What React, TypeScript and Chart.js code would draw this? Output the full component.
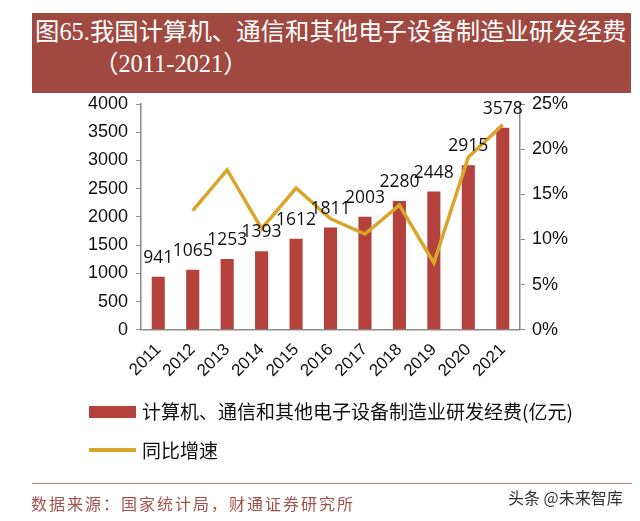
import React, { useEffect, useRef } from "react";
import { Chart, registerables } from "chart.js";

Chart.register(...registerables);

const years = ["2011", "2012", "2013", "2014", "2015", "2016", "2017", "2018", "2019", "2020", "2021"];
const rdSpending = [941, 1065, 1253, 1393, 1612, 1811, 2003, 2280, 2448, 2915, 3578];
const growthRate = [null, 13.2, 17.7, 11.2, 15.7, 12.3, 10.6, 13.8, 7.4, 19.1, 22.7];
const leftTicks = [0, 500, 1000, 1500, 2000, 2500, 3000, 3500, 4000];
const rightTicks = [0, 5, 10, 15, 20, 25];

const titleLine1 = "图65.我国计算机、通信和其他电子设备制造业研发经费";
const titleLine2 = "（2011-2021）";
const barLegend = "计算机、通信和其他电子设备制造业研发经费(亿元)";
const lineLegend = "同比增速";
const sourceText = "数据来源：国家统计局，财通证券研究所";
const watermark = "头条 @未来智库";

const BAR_COLOR = "#B5413D";
const LINE_COLOR = "#D9A52A";
const TITLE_BG = "#9F4941";
const AXIS_COLOR = "#8C8C8C";
const FONT = "'Liberation Sans', 'Noto Sans CJK SC', sans-serif";

const valueLabels = {
  id: "valueLabels",
  afterDatasetsDraw(chart: any) {
    const ctx = chart.ctx;
    const meta = chart.getDatasetMeta(0);
    ctx.save();
    ctx.font = "17.5px 'Open Sans', 'Liberation Sans', sans-serif";
    ctx.fillStyle = "#111";
    ctx.textAlign = "center";
    ctx.textBaseline = "alphabetic";
    meta.data.forEach((el: any, i: number) => {
      ctx.fillText(String(rdSpending[i]), el.x, el.y - 14);
    });
    ctx.restore();
  },
};

export default function App() {
  const ref = useRef<HTMLCanvasElement>(null);
  useEffect(() => {
    if (!ref.current) return;
    const chart = new Chart(ref.current, {
      type: "bar",
      data: {
        labels: years,
        datasets: [
          {
            type: "bar",
            label: barLegend,
            data: rdSpending,
            backgroundColor: BAR_COLOR,
            yAxisID: "y",
            categoryPercentage: 1,
            barPercentage: 0.38,
            order: 1,
          },
          {
            type: "line",
            label: lineLegend,
            data: growthRate as any,
            borderColor: LINE_COLOR,
            backgroundColor: LINE_COLOR,
            borderWidth: 3.5,
            pointRadius: 0,
            tension: 0,
            yAxisID: "y1",
            order: 0,
          },
        ],
      },
      options: {
        responsive: false,
        animation: false,
        layout: { padding: { left: 80, right: 65, top: 104, bottom: 138 } },
        plugins: { legend: { display: false }, tooltip: { enabled: false }, title: { display: false } },
        scales: {
          x: {
            grid: { display: false },
            border: { display: true, color: AXIS_COLOR, width: 1.5 },
            ticks: {
              color: "#111",
              font: { family: FONT, size: 17 },
              minRotation: 45,
              maxRotation: 45,
              padding: 2,
            },
          },
          y: {
            position: "left",
            min: 0,
            max: 4000,
            afterBuildTicks: (s: any) => {
              s.ticks = leftTicks.map((v) => ({ value: v }));
            },
            grid: { drawOnChartArea: false, drawTicks: true, tickLength: 5, color: AXIS_COLOR },
            border: { display: true, color: AXIS_COLOR, width: 1.5 },
            ticks: { color: "#111", font: { family: FONT, size: 18 }, padding: 8, callback: (v: any) => String(v) },
          },
          y1: {
            position: "right",
            min: 0,
            max: 25,
            afterBuildTicks: (s: any) => {
              s.ticks = rightTicks.map((v) => ({ value: v }));
            },
            grid: { drawOnChartArea: false, drawTicks: true, tickLength: 5, color: AXIS_COLOR },
            border: { display: true, color: AXIS_COLOR, width: 1.5 },
            ticks: {
              color: "#111",
              font: { family: FONT, size: 18 },
              padding: 7,
              callback: (v: any) => v + "%",
            },
          },
        },
      },
      plugins: [valueLabels],
    });
    return () => chart.destroy();
  }, []);

  return (
    <div style={{ position: "fixed", left: 0, top: 0, width: 640, height: 521, background: "#fff", overflow: "hidden" }}>
      <canvas ref={ref} width={640} height={521} style={{ position: "absolute", left: 0, top: 0, width: 640, height: 521 }} />
      <div
        style={{
          position: "absolute",
          left: 32,
          top: 13,
          width: 599,
          height: 80,
          background: TITLE_BG,
          color: "#fff",
          fontFamily: "'Liberation Serif', 'Noto Sans CJK SC', serif",
          fontSize: 24.4,
          lineHeight: "32px",
        }}
      >
        <div style={{ position: "absolute", left: 3, top: 3, whiteSpace: "nowrap" }}>{titleLine1}</div>
        <div style={{ position: "absolute", left: 62, top: 35, whiteSpace: "nowrap" }}>{titleLine2}</div>
      </div>
      <div style={{ position: "absolute", left: 89, top: 406, width: 47, height: 12, background: BAR_COLOR }} />
      <div
        style={{
          position: "absolute",
          left: 142,
          top: 398,
          fontFamily: "'Noto Sans CJK SC', sans-serif",
          fontSize: 19,
          lineHeight: "26px",
          color: "#111",
          whiteSpace: "nowrap",
        }}
      >
        {barLegend}
      </div>
      <div style={{ position: "absolute", left: 89, top: 448, width: 47, height: 4, background: LINE_COLOR }} />
      <div
        style={{
          position: "absolute",
          left: 142,
          top: 437,
          fontFamily: "'Noto Sans CJK SC', sans-serif",
          fontSize: 19,
          lineHeight: "26px",
          color: "#111",
          whiteSpace: "nowrap",
        }}
      >
        {lineLegend}
      </div>
      <div style={{ position: "absolute", left: 32, top: 483, width: 600, height: 1, background: "#B9807A" }} />
      <div
        style={{
          position: "absolute",
          left: 31,
          top: 492,
          fontFamily: "'Noto Sans CJK SC', sans-serif",
          fontSize: 16,
          letterSpacing: 2,
          lineHeight: "22px",
          color: "#A4514B",
          whiteSpace: "nowrap",
        }}
      >
        {sourceText}
      </div>
      <div
        style={{
          position: "absolute",
          left: 508,
          top: 486,
          fontFamily: "'Noto Sans CJK SC', sans-serif",
          fontSize: 16,
          lineHeight: "22px",
          color: "#333",
          whiteSpace: "nowrap",
        }}
      >
        {watermark}
      </div>
    </div>
  );
}
